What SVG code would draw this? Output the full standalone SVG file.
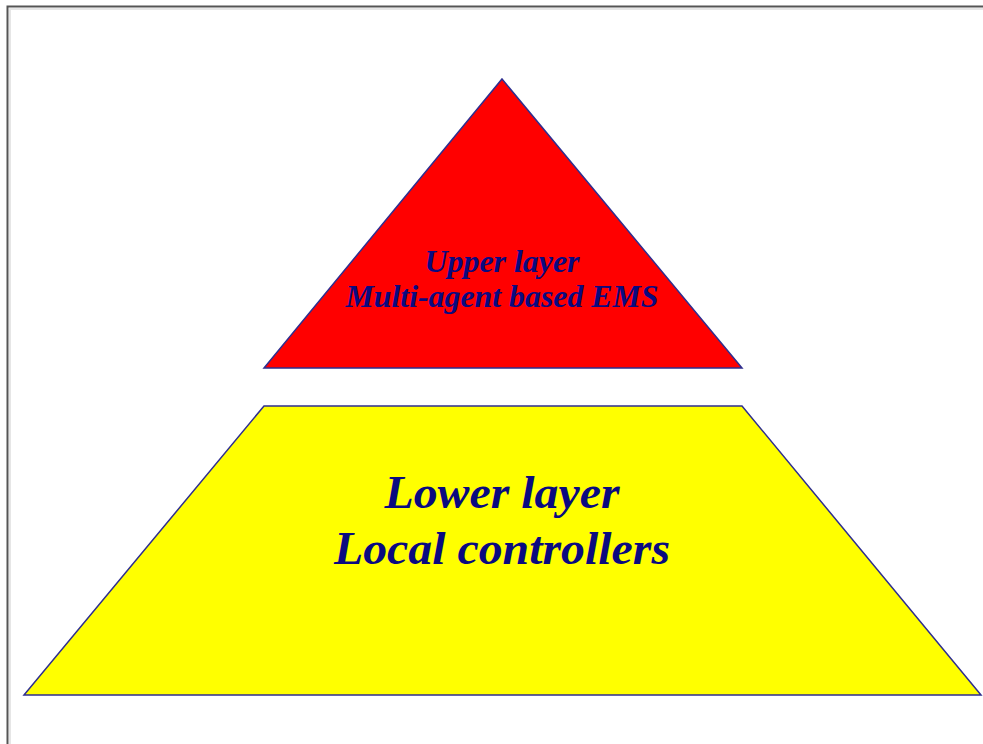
<svg xmlns="http://www.w3.org/2000/svg" width="983" height="744" viewBox="0 0 983 744">
  <style>
    .layer { stroke: #2e2e8f; stroke-width: 1.5; stroke-linejoin: miter; }
    .label { font-family: "Liberation Serif", "Times New Roman", serif; font-weight: bold; font-style: italic; fill: #0a0a80; text-anchor: middle; }
  </style>
  <rect x="0" y="0" width="983" height="744" fill="#ffffff"/>
  <!-- frame -->
  <path d="M7.5 744 V6.5 H983" fill="none" stroke="#555555" stroke-width="2"/>
  <path d="M10 744 V9 H983" fill="none" stroke="#e6e6e6" stroke-width="2"/>

  <g id="upper-layer">
    <polygon class="layer" points="502,79 742,368 264,368" fill="#ff0000"/>
    <text class="label" x="502" y="272" font-size="32" textLength="155" lengthAdjust="spacingAndGlyphs">Upper layer</text>
    <text class="label" x="502" y="307" font-size="32" textLength="313" lengthAdjust="spacingAndGlyphs">Multi-agent based EMS</text>
  </g>

  <g id="lower-layer">
    <polygon class="layer" points="264,406 742,406 981,695 24,695" fill="#ffff00"/>
    <text class="label" x="502" y="508" font-size="46" textLength="235" lengthAdjust="spacingAndGlyphs">Lower layer</text>
    <text class="label" x="502" y="564" font-size="46" textLength="336" lengthAdjust="spacingAndGlyphs">Local controllers</text>
  </g>

  <g id="connectors"></g>
</svg>
